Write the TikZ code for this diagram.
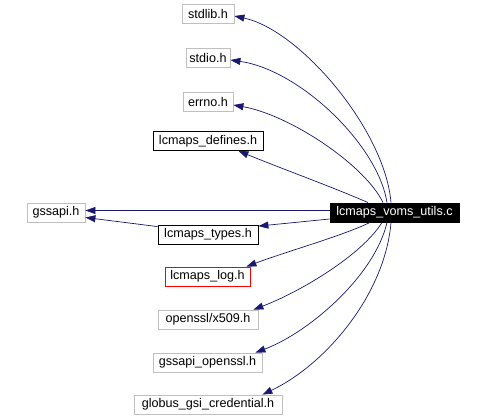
\documentclass[tikz,border=0pt]{standalone}
\usepackage{fontspec}
\setmainfont{Liberation Sans}
\usetikzlibrary{arrows.meta}
\definecolor{edgec}{HTML}{191970}
\definecolor{grayb}{HTML}{BFBFBF}
\tikzset{
  filebox/.style={draw=grayb, line width=0.8pt, minimum height=19pt, inner sep=0pt, font=\fontsize{12.6}{14}\selectfont, text=black},
  docbox/.style={filebox, draw=black},
  redbox/.style={filebox, draw=red},
  mainbox/.style={filebox, draw=black, fill=black, text=white},
  dep/.style={draw=edgec, line width=0.7pt, -{Triangle[length=10pt,width=7pt]}},
}
\begin{document}
\begin{tikzpicture}[x=1pt,y=-1pt]
\useasboundingbox (0,0) rectangle (484,417);
\node[filebox, minimum width=52pt] (stdlib) at (208,14) {stdlib.h};
\node[filebox, minimum width=44pt] (stdio) at (208,58) {stdio.h};
\node[filebox, minimum width=50pt] (errno) at (208,102) {errno.h};
\node[docbox, minimum width=110pt] (defines) at (208,141) {lcmaps\_defines.h};
\node[filebox, minimum width=58pt] (gssapi) at (56,212.5) {gssapi.h};
\node[mainbox, minimum width=129pt] (voms) at (394.5,212.5) {lcmaps\_voms\_utils.c};
\node[docbox, minimum width=100pt] (types) at (208,234.5) {lcmaps\_types.h};
\node[redbox, minimum width=85pt] (log) at (207.5,276.5) {lcmaps\_log.h};
\node[filebox, minimum width=100pt] (x509) at (208,319.5) {openssl/x509.h};
\node[filebox, minimum width=109pt] (gssopenssl) at (207.5,362.5) {gssapi\_openssl.h};
\node[filebox, minimum width=148pt] (globus) at (208,404.5) {globus\_gsi\_credential.h};

\draw[dep] ([xshift=-3.5pt]voms.north) .. controls (385,130) and (300,30) .. ([yshift=-2pt]stdlib.east);
\draw[dep] ([xshift=-7.5pt]voms.north) .. controls (378,145) and (300,70) .. ([yshift=-2pt]stdio.east);
\draw[dep] ([xshift=-11.5pt]voms.north) .. controls (365,165) and (290,115) .. ([yshift=-3pt]errno.east);
\draw[dep] ([xshift=-26.5pt]voms.north) .. controls (335,188) and (280,168) .. ([xshift=-25pt]defines.south east);
\draw[dep] ([yshift=2pt]voms.west) -- ([yshift=2pt]gssapi.east);
\draw[dep] ([yshift=-6.5pt]voms.west) -- ([yshift=-1.5pt]types.north east);
\draw[dep] ([yshift=-2pt]types.north west) -- ([yshift=-5pt]gssapi.east);
\draw[dep] ([xshift=-24.5pt]voms.south) .. controls (345,235) and (285,252) .. ([xshift=-4pt]log.north east);
\draw[dep] ([xshift=-12.5pt]voms.south) .. controls (362,255) and (300,292) .. ([xshift=-5pt]x509.north east);
\draw[dep] ([xshift=-7.5pt]voms.south) .. controls (375,275) and (310,332) .. ([xshift=-7pt]gssopenssl.north east);
\draw[dep] ([xshift=-3.5pt]voms.south) .. controls (385,295) and (325,365) .. ([xshift=-20pt]globus.north east);
\end{tikzpicture}
\end{document}
